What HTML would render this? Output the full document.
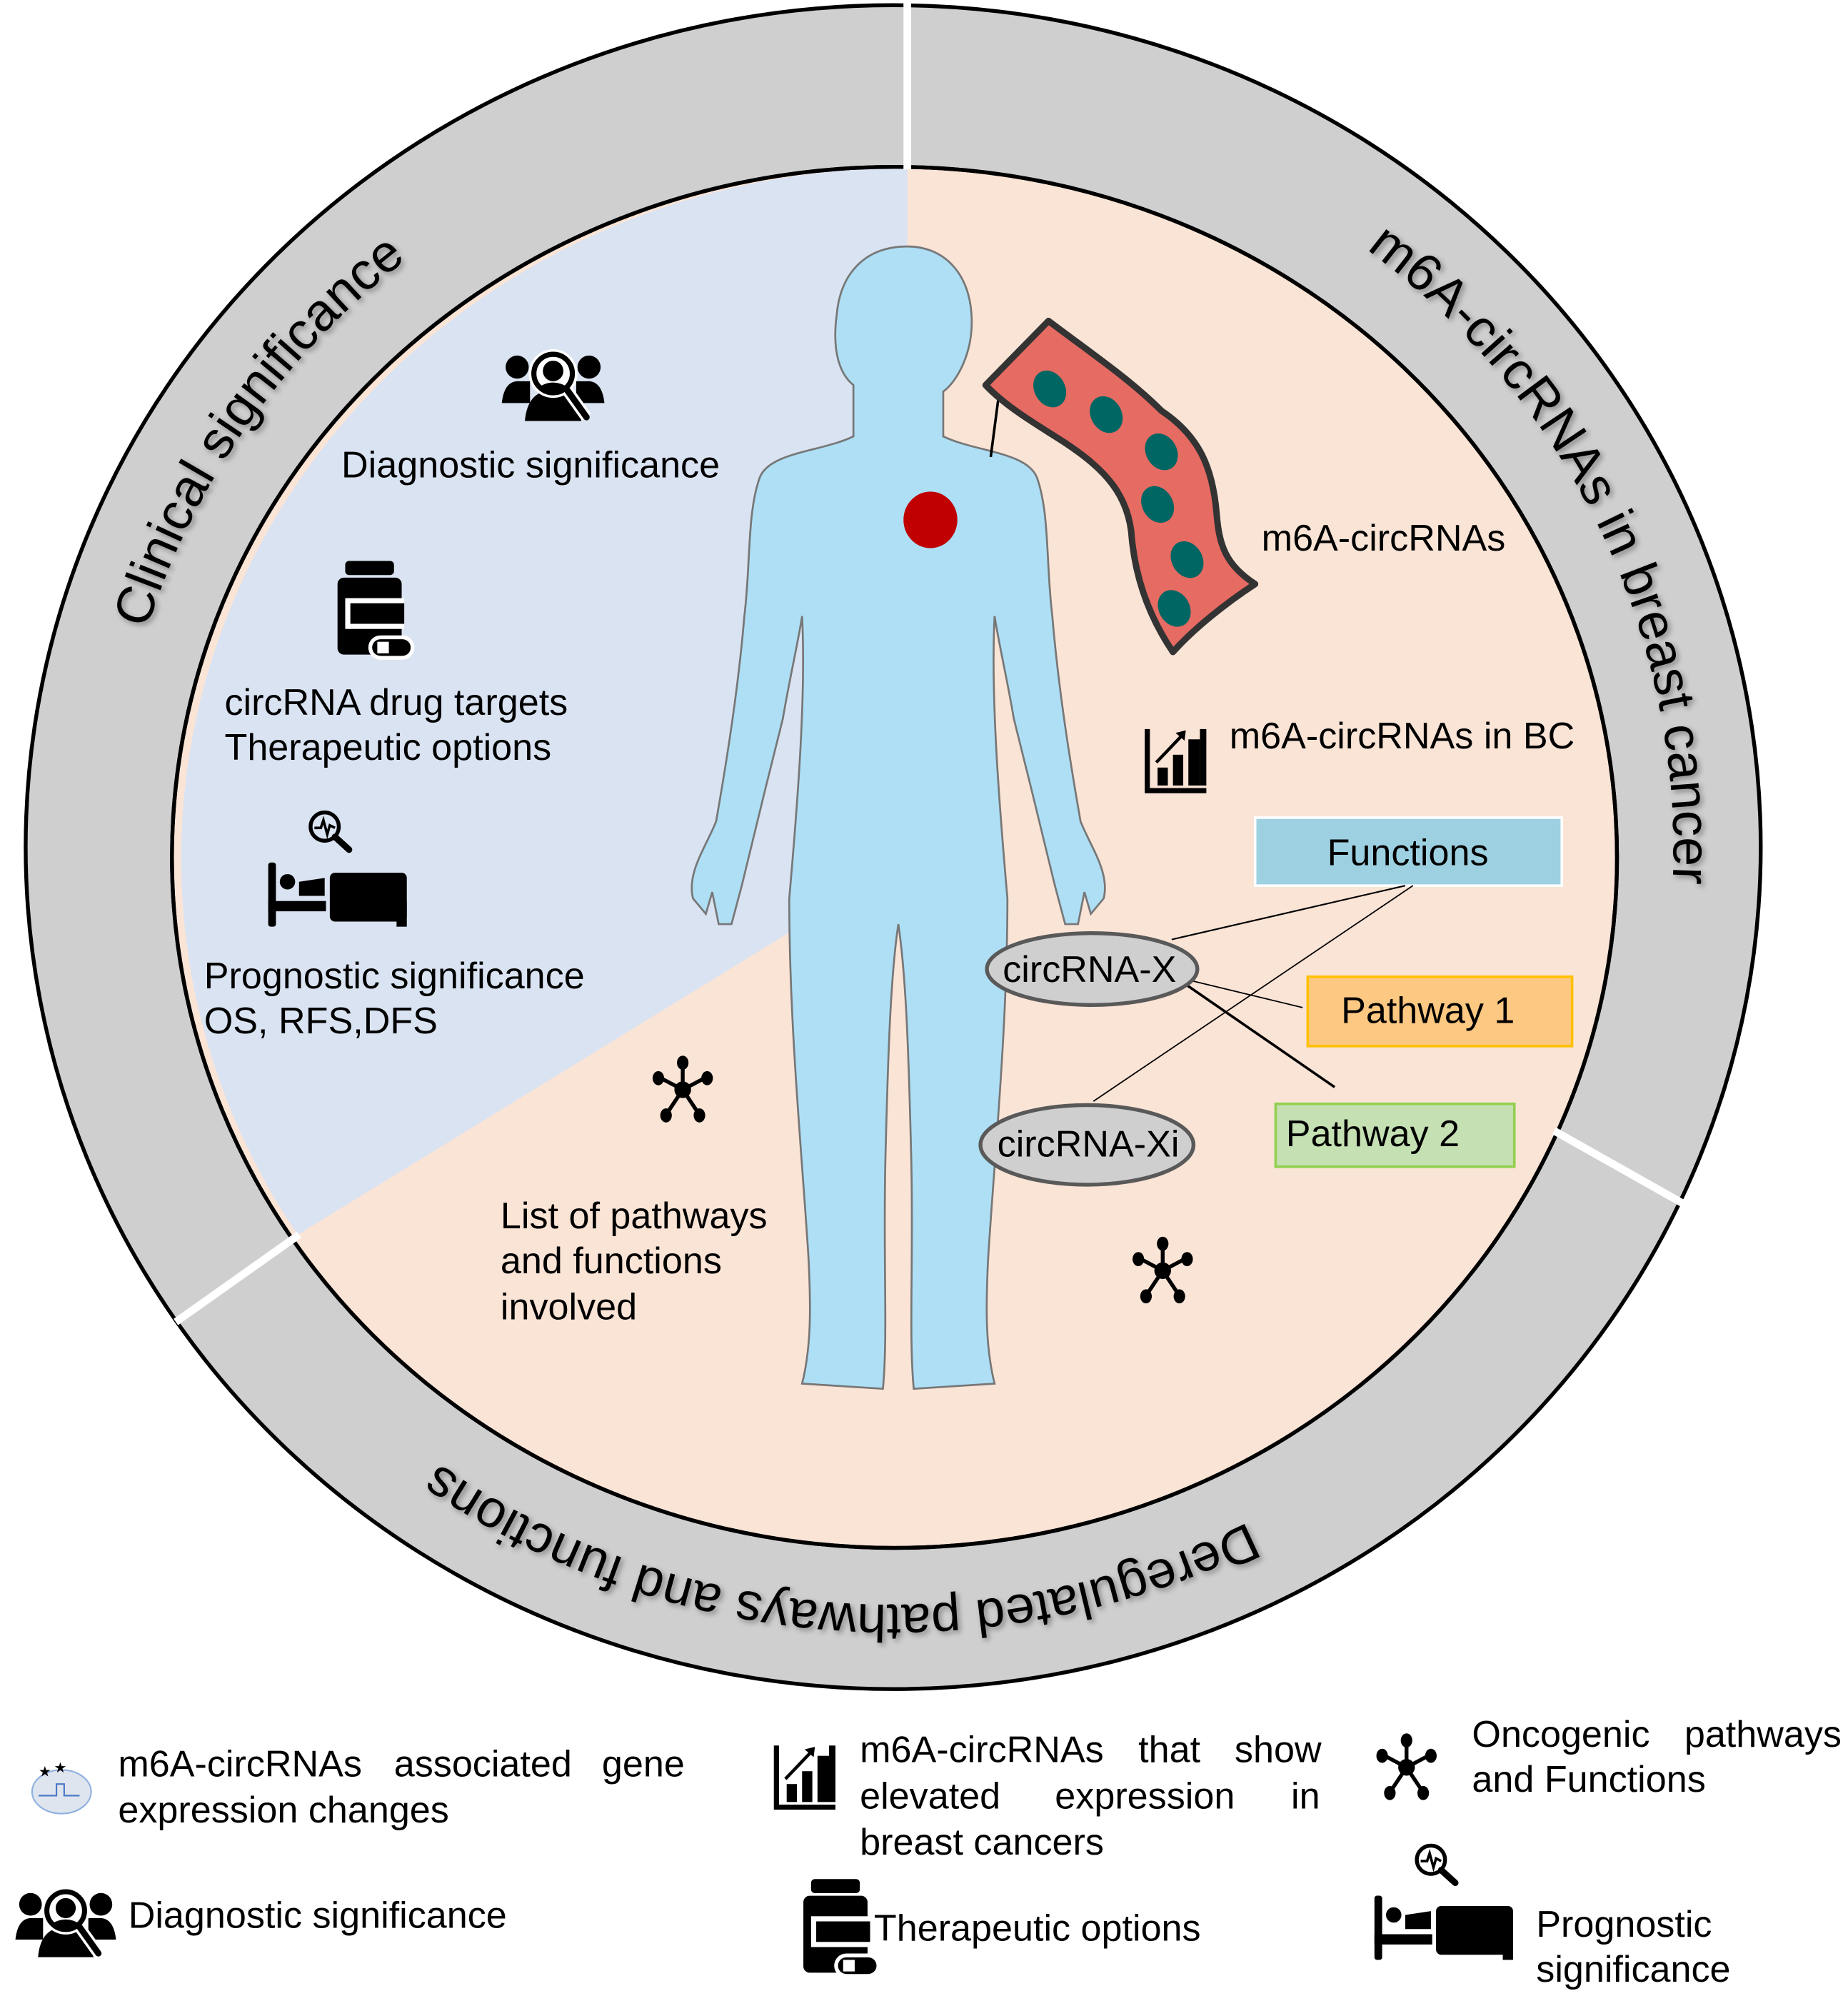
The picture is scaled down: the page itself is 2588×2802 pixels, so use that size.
<!DOCTYPE html>
<html><head><meta charset="utf-8"><style>
html,body{margin:0;padding:0;background:#fff;}
svg{display:block;}
text{font-family:"Liberation Sans",Arial,sans-serif;fill:#000;}
</style></head><body>
<svg width="2588" height="2802" viewBox="0 0 1440 1559" xmlns="http://www.w3.org/2000/svg">
<defs>
<path id="ringpath" d="M88,662 A608 588 0 1 1 1304,662 A608 588 0 1 1 88,662"/>
<g id="net">
 <g stroke="#000" stroke-width="3">
  <line x1="0" y1="0" x2="0" y2="-20"/><line x1="0" y1="0" x2="-17" y2="-9"/><line x1="0" y1="0" x2="17" y2="-9"/>
  <line x1="0" y1="0" x2="-12" y2="18"/><line x1="0" y1="0" x2="12" y2="18"/>
 </g>
 <circle r="6.5"/>
 <ellipse cx="0" cy="-21" rx="4.5" ry="5.5"/><ellipse cx="-19" cy="-9" rx="4.5" ry="5.5"/><ellipse cx="19" cy="-9" rx="4.5" ry="5.5"/>
 <ellipse cx="-13" cy="20" rx="4.5" ry="5.5"/><ellipse cx="13" cy="20" rx="4.5" ry="5.5"/>
</g>
<g id="pill">
 <rect x="6" y="0" width="38" height="11" rx="3"/>
 <rect x="0" y="13" width="50" height="60" rx="5"/>
 <rect x="6" y="29" width="46" height="24" fill="#fff"/>
 <rect x="10" y="33" width="42" height="16"/>
 <rect x="24" y="58" width="36" height="19" rx="9.5" fill="#fff"/>
 <rect x="27" y="61" width="30" height="13" rx="6.5"/>
 <rect x="31" y="63" width="9" height="9" fill="#fff"/>
</g>
<g id="bed">
 <circle cx="44" cy="12" r="11" fill="none" stroke="#000" stroke-width="3"/>
 <polyline points="36,13 41,13 43,7 46,18 48,11 52,13" fill="none" stroke="#000" stroke-width="2"/>
 <line x1="52" y1="20" x2="63" y2="30" stroke="#000" stroke-width="5" stroke-linecap="round"/>
 <rect x="0" y="40" width="6" height="50" rx="2"/>
 <rect x="0" y="70" width="45" height="8"/>
 <circle cx="15" cy="55" r="6"/>
 <path d="M24,55 L44,52 L44,66 L24,66 Z"/>
 <rect x="48" y="48" width="60" height="38" rx="4"/>
 <rect x="100" y="70" width="8" height="20"/>
</g>
<g id="diag">
 <circle cx="12" cy="14" r="9"/><circle cx="68" cy="14" r="9"/>
 <path d="M0,42 Q2,24 14,25 L22,25 L22,42 Z"/><path d="M80,42 Q78,24 66,25 L58,25 L58,42 Z"/>
 <path d="M18,56 Q20,32 40,32 Q60,32 62,56 Z"/>
 <circle cx="40" cy="19" r="19" fill="#fff"/>
 <circle cx="40" cy="19" r="15" fill="none" stroke="#000" stroke-width="4"/>
 <circle cx="40" cy="17" r="8"/>
 <path d="M28,30 Q40,22 52,30 Q46,34 40,34 Q34,34 28,30Z"/>
 <line x1="51" y1="32" x2="66" y2="53" stroke="#fff" stroke-width="9"/>
 <line x1="51" y1="32" x2="66" y2="53" stroke="#000" stroke-width="5" stroke-linecap="round"/>
</g>
<g id="chart">
 <path d="M0,0 L4,0 L4,46 L48,46 L48,50 L0,50 Z"/>
 <rect x="10" y="30" width="8" height="14"/><rect x="22" y="20" width="8" height="24"/><rect x="34" y="8" width="9" height="36"/>
 <rect x="43" y="0" width="5" height="44"/>
 <line x1="9" y1="26" x2="30" y2="4" stroke="#000" stroke-width="2.5"/>
 <path d="M24,3 L32,1 L31,9 Z"/>
</g>
</defs>

<ellipse cx="696" cy="660" rx="676" ry="656" fill="#d0cfcf" stroke="#000" stroke-width="3"/>
<ellipse cx="697" cy="668" rx="563" ry="538" fill="#fae4d6" stroke="#000" stroke-width="3"/>
<path d="M707,131 L707,670 L232,962 A563 538 0 0 1 707,131 Z" fill="#dae3f2"/>
<ellipse cx="697" cy="668" rx="563" ry="538" fill="none" stroke="#000" stroke-width="3"/>
<g stroke="#fff" stroke-width="6">
 <line x1="707" y1="0" x2="707" y2="132"/>
 <line x1="1211" y1="881" x2="1312" y2="938"/>
 <line x1="137" y1="1030" x2="233" y2="962"/>
</g>
<g font-size="41" style="filter:drop-shadow(2px 2px 2px rgba(0,0,0,0.35))">
 <text><textPath href="#ringpath" startOffset="9.4%" text-anchor="middle">Clinical significance</textPath></text>
 <text><textPath href="#ringpath" startOffset="43.1%" text-anchor="middle">m6A-circRNAs in breast cancer</textPath></text>
 <text><textPath href="#ringpath" startOffset="76.2%" text-anchor="middle">Deregulated pathways and functions</textPath></text>
</g>

<path d="M707,192 C735,192 755,212 757,245 C759,275 745,298 735,305 L735,340 C760,352 800,352 808,372 C818,400 815,440 820,480 C825,540 835,600 842,640 C850,660 865,680 860,700 L850,712 L845,695 L840,720 L830,720 L822,690 C815,660 800,600 790,560 C785,530 778,500 775,480 C772,540 778,620 785,700 C785,800 775,900 770,980 C768,1020 768,1050 775,1078 L712,1082 C708,1040 712,980 710,900 C708,820 706,760 700,720 C694,760 692,820 690,900 C688,980 692,1040 688,1082 L625,1078 C632,1050 632,1020 630,980 C625,900 615,800 615,700 C622,620 628,540 625,480 C622,500 615,530 610,560 C600,600 585,660 578,690 L570,720 L560,720 L555,695 L550,712 L540,700 C535,680 550,660 558,640 C565,600 575,540 580,480 C585,440 582,400 592,372 C600,352 640,352 665,340 L665,300 C655,292 648,275 652,245 C655,212 675,192 707,192 Z" fill="#aedff5" stroke="#777" stroke-width="1.5"/>
<ellipse cx="725" cy="405" rx="21" ry="22" fill="#c00000"/>

<line x1="772" y1="356" x2="778" y2="310" stroke="#000" stroke-width="2"/>
<path d="M768,300 L817,250 C850,275 880,295 905,320 C935,340 945,365 948,400 C950,425 955,440 978,455 C955,470 930,490 914,508 C895,480 885,450 882,420 C880,385 860,365 830,345 C810,332 785,318 768,300 Z" fill="#e66b63" stroke="#333" stroke-width="5" stroke-linejoin="round"/>
<g fill="#006663">
 <ellipse cx="818" cy="303" rx="12" ry="15" transform="rotate(-30 818 303)"/>
 <ellipse cx="862" cy="323" rx="12" ry="15" transform="rotate(-30 862 323)"/>
 <ellipse cx="905" cy="352" rx="12" ry="15" transform="rotate(-30 905 352)"/>
 <ellipse cx="902" cy="393" rx="12" ry="15" transform="rotate(-30 902 393)"/>
 <ellipse cx="925" cy="436" rx="12" ry="15" transform="rotate(-30 925 436)"/>
 <ellipse cx="915" cy="474" rx="12" ry="15" transform="rotate(-30 915 474)"/>
</g>

<g font-size="29">
<use href="#diag" transform="translate(391,272)"/>
<text x="266" y="372">Diagnostic significance</text>
<use href="#pill" transform="translate(263,437)"/>
<text x="175" y="557">circRNA drug targets</text>
<text x="175" y="592">Therapeutic options</text>
<use href="#bed" transform="translate(209,632)"/>
<text x="159" y="770">Prognostic significance</text>
<text x="159" y="805">OS, RFS,DFS</text>

<text x="983" y="429">m6A-circRNAs</text>
<use href="#chart" transform="translate(892,568)"/>
<text x="958" y="583">m6A-circRNAs in BC</text>

<rect x="978" y="637" width="239" height="53" fill="#9dd1e2" stroke="#fff" stroke-width="2"/>
<text x="1097" y="674" text-anchor="middle">Functions</text>
<rect x="1019" y="761" width="206" height="54" fill="#fdc882" stroke="#ffc000" stroke-width="2"/>
<text x="1045" y="797">Pathway 1</text>
<rect x="994" y="860" width="186" height="49" fill="#c5e0b3" stroke="#92d050" stroke-width="2"/>
<text x="1002" y="893">Pathway 2</text>

<g stroke="#000">
 <line x1="913" y1="732" x2="1095" y2="690" stroke-width="1.2"/>
 <line x1="1101" y1="690" x2="852" y2="858" stroke-width="1"/>
 <line x1="928" y1="764" x2="1015" y2="785" stroke-width="1"/>
 <line x1="924" y1="767" x2="1040" y2="847" stroke-width="2"/>
</g>
<ellipse cx="851" cy="755" rx="82" ry="28" fill="#d0cfcf" stroke="#595959" stroke-width="3"/>
<text x="849" y="765" text-anchor="middle">circRNA-X</text>
<ellipse cx="847" cy="892" rx="83" ry="31" fill="#d0cfcf" stroke="#595959" stroke-width="3"/>
<text x="848" y="901" text-anchor="middle">circRNA-Xi</text>

<use href="#net" transform="translate(532,849)"/>
<use href="#net" transform="translate(906,990)"/>
<text x="390" y="957">List of pathways</text>
<text x="390" y="992">and functions</text>
<text x="390" y="1028">involved</text>

<g>
 <ellipse cx="48" cy="1396" rx="23" ry="17" fill="#dfe5ee" stroke="#8fb0e0" stroke-width="1.2"/>
 <polyline points="30,1399 44,1399 44,1390 50,1390 50,1399 62,1399" fill="none" stroke="#4a78c8" stroke-width="1.2"/>
 <text x="30" y="1384" font-size="11" fill="#e87722">★</text><text x="42" y="1381" font-size="11" fill="#e87722">★</text>
</g>
<text x="92" y="1384">m6A-circRNAs</text><text x="307" y="1384">associated</text><text x="469" y="1384">gene</text>
<text x="92" y="1420">expression changes</text>
<use href="#diag" transform="translate(12,1470) scale(0.98)"/>
<text x="100" y="1502">Diagnostic significance</text>

<use href="#chart" transform="translate(603,1360)"/>
<text x="670" y="1373">m6A-circRNAs</text><text x="887" y="1373">that</text><text x="962" y="1373">show</text>
<text x="670" y="1409">elevated</text><text x="822" y="1409">expression</text><text x="1006" y="1409">in</text>
<text x="670" y="1445">breast cancers</text>
<use href="#pill" transform="translate(626,1464)"/>
<text x="681" y="1512">Therapeutic options</text>

<use href="#net" transform="translate(1096,1377)"/>
<text x="1147" y="1361">Oncogenic</text><text x="1435" y="1361" text-anchor="end">pathways</text>
<text x="1147" y="1396">and Functions</text>
<use href="#bed" transform="translate(1071,1437)"/>
<text x="1197" y="1509">Prognostic</text>
<text x="1197" y="1544">significance</text>
</g>
</svg>
</body></html>
